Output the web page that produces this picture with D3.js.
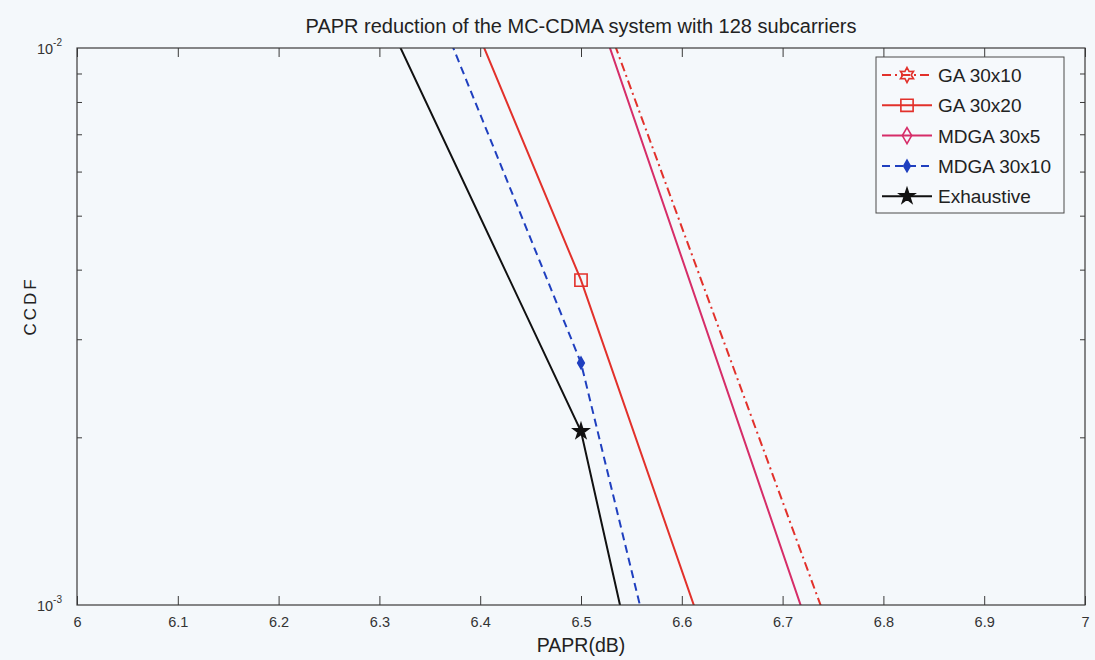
<!DOCTYPE html>
<html>
<head>
<meta charset="utf-8">
<script src="https://cdn.jsdelivr.net/npm/d3@7/dist/d3.min.js"></script>
<style>
  html, body { margin: 0; padding: 0; background: #f4f8fb; }
  svg { display: block; font-family: "Liberation Sans", Arial, Helvetica, sans-serif; }
</style>
</head>
<body>
<svg id="chart" width="1095" height="660"></svg>
<script>
// PAPR sample points (dB) and CCDF values of each scheme
const paprPoints = [6.25, 6.5, 6.75];
const ga30x10    = [0.186,  0.01483, 8.69e-4];
const ga30x20    = [0.0466, 3.83e-3, 1.905e-4];
const mdga30x5   = [0.170,  0.01419, 6.76e-4];
const mdga30x10  = [0.0355, 2.72e-3, 3.75e-5];
const exhaustive = [0.01875, 2.05e-3, 1.98e-5];

const seriesNames = ["GA 30x10", "GA 30x20", "MDGA 30x5", "MDGA 30x10", "Exhaustive"];
const xTickValues = [6, 6.1, 6.2, 6.3, 6.4, 6.5, 6.6, 6.7, 6.8, 6.9, 7];
const xTickLabels = ["6", "6.1", "6.2", "6.3", "6.4", "6.5", "6.6", "6.7", "6.8", "6.9", "7"];
const yMinorTicks = [2e-3, 3e-3, 4e-3, 5e-3, 6e-3, 7e-3, 8e-3, 9e-3];

const titleText = "PAPR reduction of the MC-CDMA system with 128 subcarriers";
const xLabel = "PAPR(dB)";
const yLabel = "CCDF";

const svg = d3.select("#chart");
const W = 1095, H = 660;
const plot = { left: 77, right: 1085, top: 48, bottom: 605 };

const x = d3.scaleLinear().domain([6, 7]).range([plot.left, plot.right]);
const y = d3.scaleLog().domain([1e-3, 1e-2]).range([plot.bottom, plot.top]);

svg.append("rect").attr("width", W).attr("height", H).attr("fill", "#f4f8fb");

// clip marks to the axes box
svg.append("clipPath").attr("id", "plotClip")
  .append("rect")
  .attr("x", plot.left).attr("y", plot.top)
  .attr("width", plot.right - plot.left).attr("height", plot.bottom - plot.top);

// six-pointed star (hexagram) marker path
function hexagram(r) {
  const pts = [];
  for (let i = 0; i < 12; i++) {
    const a = -Math.PI / 2 + i * Math.PI / 6;
    const rr = i % 2 === 0 ? r : r * 0.55;
    pts.push([rr * Math.cos(a), rr * Math.sin(a)]);
  }
  return d3.line()(pts) + "Z";
}

const series = [
  { name: seriesNames[0], values: ga30x10,   color: "#e2312b", dash: "9,4,2,4", marker: "hex",     fill: "none" },
  { name: seriesNames[1], values: ga30x20,   color: "#e2312b", dash: null,      marker: "square",  fill: "none" },
  { name: seriesNames[2], values: mdga30x5,  color: "#d62d68", dash: null,      marker: "diamond", fill: "none" },
  { name: seriesNames[3], values: mdga30x10, color: "#1f3fbf", dash: "8,5",     marker: "bdiam",   fill: "#1f3fbf" },
  { name: seriesNames[4], values: exhaustive,color: "#111111", dash: null,      marker: "star",    fill: "#111111" }
];

function markerPath(kind) {
  switch (kind) {
    case "hex": return hexagram(7.5);
    case "square": return d3.symbol(d3.symbolSquare, 150)();
    case "diamond": return d3.symbol(d3.symbolDiamond, 75)();
    case "bdiam": return d3.symbol(d3.symbolDiamond, 38)();
    case "star": return d3.symbol(d3.symbolStar, 70)();
  }
}

const line = d3.line().x(d => x(d[0])).y(d => y(d[1]));

const marks = svg.append("g").attr("clip-path", "url(#plotClip)");
series.forEach(s => {
  const pts = paprPoints.map((p, i) => [p, s.values[i]]);
  marks.append("path")
    .attr("d", line(pts))
    .attr("fill", "none")
    .attr("stroke", s.color)
    .attr("stroke-width", 2)
    .attr("stroke-dasharray", s.dash);
  marks.selectAll(null).data(pts).enter().append("path")
    .attr("transform", d => `translate(${x(d[0])},${y(d[1])})`)
    .attr("d", markerPath(s.marker))
    .attr("fill", s.fill)
    .attr("stroke", s.color)
    .attr("stroke-width", 1.6);
});

// axes
const axisColor = "#3a3a3a";
const fmt = v => xTickLabels[xTickValues.indexOf(v)];

const gB = svg.append("g").attr("transform", `translate(0,${plot.bottom})`)
  .call(d3.axisBottom(x).tickValues(xTickValues).tickFormat(fmt).tickSizeInner(-9).tickSizeOuter(0).tickPadding(12));
const gT = svg.append("g").attr("transform", `translate(0,${plot.top})`)
  .call(d3.axisTop(x).tickValues(xTickValues).tickFormat("").tickSizeInner(-9).tickSizeOuter(0));
const gL = svg.append("g").attr("transform", `translate(${plot.left},0)`)
  .call(d3.axisLeft(y).tickValues(yMinorTicks).tickFormat("").tickSizeInner(-5).tickSizeOuter(0));
const gR = svg.append("g").attr("transform", `translate(${plot.right},0)`)
  .call(d3.axisRight(y).tickValues(yMinorTicks).tickFormat("").tickSizeInner(-5).tickSizeOuter(0));

[gB, gT, gL, gR].forEach(g => {
  g.select(".domain").remove();
  g.selectAll(".tick line").attr("stroke", axisColor).attr("stroke-width", 1);
});
gB.attr("font-size", 14.5).attr("font-family", "Liberation Sans, Arial, sans-serif");
gB.selectAll(".tick text").attr("fill", "#333");

svg.append("rect")
  .attr("x", plot.left).attr("y", plot.top)
  .attr("width", plot.right - plot.left).attr("height", plot.bottom - plot.top)
  .attr("fill", "none").attr("stroke", axisColor).attr("stroke-width", 1.2);

// decade labels on the log axis
[[1e-2, "-2"], [1e-3, "-3"]].forEach(([v, ex]) => {
  const t = svg.append("text")
    .attr("x", plot.left - 15).attr("y", y(v) + 6)
    .attr("text-anchor", "end").attr("font-size", 14.5).attr("fill", "#333");
  t.append("tspan").text("10");
  t.append("tspan").attr("font-size", 10).attr("dy", -8).text(ex);
});

// title and axis labels
svg.append("text")
  .attr("x", (plot.left + plot.right) / 2).attr("y", 33)
  .attr("text-anchor", "middle").attr("font-size", 20).attr("fill", "#222")
  .text(titleText);

svg.append("text")
  .attr("x", (plot.left + plot.right) / 2).attr("y", 652)
  .attr("text-anchor", "middle").attr("font-size", 19.5).attr("fill", "#222")
  .text(xLabel);

svg.append("text")
  .attr("transform", "translate(36,306) rotate(-90)")
  .attr("text-anchor", "middle").attr("font-size", 17).attr("letter-spacing", 3)
  .attr("fill", "#222")
  .text(yLabel);

// legend
const lg = { left: 876, top: 57, right: 1064, bottom: 213 };
const legend = svg.append("g");
legend.append("rect")
  .attr("x", lg.left).attr("y", lg.top)
  .attr("width", lg.right - lg.left).attr("height", lg.bottom - lg.top)
  .attr("fill", "#f6f9fc").attr("stroke", "#4a4a4a").attr("stroke-width", 1);

series.forEach((s, i) => {
  const cy = 75 + i * 30.3;
  legend.append("line")
    .attr("x1", 882).attr("x2", 932).attr("y1", cy).attr("y2", cy)
    .attr("stroke", s.color).attr("stroke-width", 2)
    .attr("stroke-dasharray", s.dash);
  legend.append("path")
    .attr("transform", `translate(907,${cy})`)
    .attr("d", markerPath(s.marker))
    .attr("fill", s.fill)
    .attr("stroke", s.color).attr("stroke-width", 1.6);
  legend.append("text")
    .attr("x", 938).attr("y", cy + 7)
    .attr("font-size", 19).attr("fill", "#222")
    .text(s.name);
});
</script>
</body>
</html>
